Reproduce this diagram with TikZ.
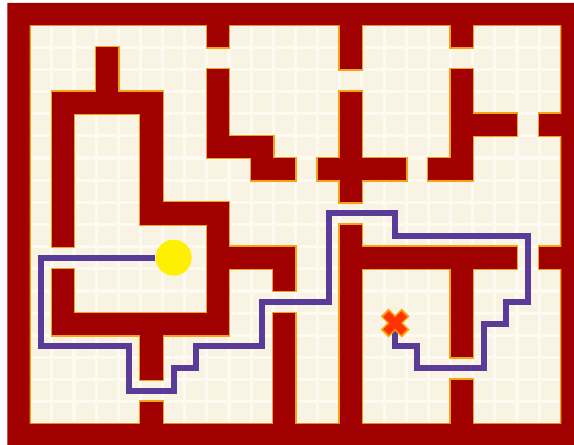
\documentclass[tikz,border=0pt]{standalone}
\usepackage{tikz}
\usetikzlibrary{positioning}
\definecolor{wall}{HTML}{A00000}
\definecolor{rim}{HTML}{F2A413}
\definecolor{floor}{HTML}{F9F3E3}
\definecolor{tile}{HTML}{FDFAF1}
\definecolor{route}{HTML}{5A3B97}
\definecolor{sun}{HTML}{FFEF00}
\definecolor{goalred}{HTML}{FF3300}
\definecolor{goalrim}{HTML}{FFA000}
\pgfdeclarelayer{back}
\pgfdeclarelayer{front}
\pgfsetlayers{back,main,front}

\begin{document}
\begin{tikzpicture}[x=22.15pt, y=-22.15pt,
    sunspot/.style={circle, fill=sun, minimum size=36pt, inner sep=0pt},
    goalx/.style={minimum size=30pt, inner sep=0pt, path picture={
        \draw[goalrim, line width=11pt] (path picture bounding box.south west) ++(4.5pt,4.5pt) -- ++(21pt,21pt);
        \draw[goalrim, line width=11pt] (path picture bounding box.north west) ++(4.5pt,-4.5pt) -- ++(21pt,-21pt);
        \draw[goalred, line width=8pt] (path picture bounding box.south west) ++(6pt,6pt) -- ++(18pt,18pt);
        \draw[goalred, line width=8pt] (path picture bounding box.north west) ++(6pt,-6pt) -- ++(18pt,-18pt);
    }}]
  \useasboundingbox (-0.3386,-0.1354) rectangle (25.576,19.955);
  \def\walls{9/0.5/10/2, 9/3/10/7, 10/6/12/7, 11/7/13/8,
      15/0.5/16/3, 15/4/16/9, 14/7/18/8,
      20/0.5/21/2, 20/3/21/8, 19/7/20/8, 21/5/23/6, 24/5/25.5/6,
      4/2/5/4, 2/4/7/5, 2/5/3/11, 6/5/7/10, 7/9/10/10,
      9/10/10/15, 10/11/13/12, 12/12/13/13,
      2/12/3/15, 3/14/9/15, 6/15/7/17, 6/18/7/19.5,
      12/14/13/19.5, 15/10/16/19.5, 16/11/23/12, 24/11/25.5/12,
      20/12/21/16, 20/17/21/19.5}
  \begin{pgfonlayer}{back}
    % floor with faint tiles
    \fill[tile] (1,1) rectangle (25,19);
    \foreach \i in {1,...,24} {
      \foreach \j in {1,...,18} {
        \fill[floor] (\i+0.07,\j+0.07) rectangle (\i+0.93,\j+0.93);
      }
    }
    % walls
    \foreach \a/\b/\c/\d in \walls {
      \draw[rim, line width=2.6pt] (\a,\b) rectangle (\c,\d);
    }
    \draw[rim, line width=2.6pt] (1,1) rectangle (25,19);
    \foreach \a/\b/\c/\d in \walls {
      \fill[wall] (\a,\b) rectangle (\c,\d);
    }
    \fill[wall, even odd rule] (0,0) rectangle (25.576,19.955) (1,1) rectangle (25,19);
  \end{pgfonlayer}
  \begin{pgfonlayer}{front}
    \node (start) [sunspot] at (7.5,11.5) {};
    \node (goal) [goalx] at (17.5,14.45) {};
  \end{pgfonlayer}
  % route
  \draw[route, line width=6pt] (start.west) -- (1.5,11.5) -- (1.5,15.5) -- (5.5,15.5)
    -- (5.5,17.5) -- (7.5,17.5) -- (7.5,16.5) -- (8.5,16.5) -- (8.5,15.5)
    -- (11.5,15.5) -- (11.5,13.5) -- (14.5,13.5) -- (14.5,9.5) -- (17.5,9.5)
    -- (17.5,10.5) -- (23.5,10.5) -- (23.5,13.5) -- (22.5,13.5) -- (22.5,14.5)
    -- (21.5,14.5) -- (21.5,16.5) -- (18.5,16.5) -- (18.5,15.5) -- (17.5,15.5)
    -- (goal.center);
\end{tikzpicture}
\end{document}
